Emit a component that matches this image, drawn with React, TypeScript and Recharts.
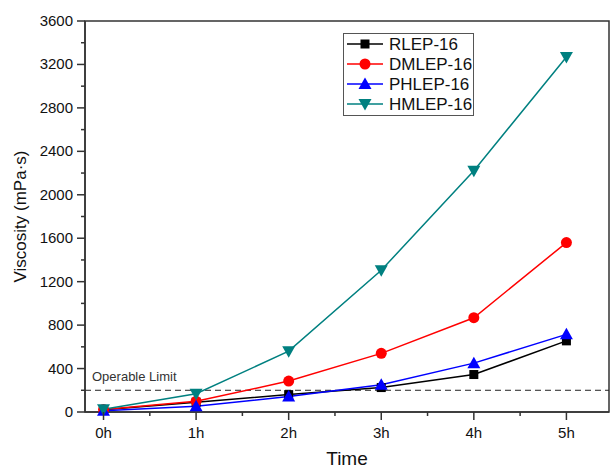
import React from 'react';
import { LineChart, Line, XAxis, YAxis, ReferenceLine, ReferenceArea } from 'recharts';

const hours = [0, 1, 2, 3, 4, 5];
const rlep = [20, 90, 160, 225, 345, 655];
const dmlep = [22, 98, 285, 540, 868, 1560];
const phlep = [12, 52, 142, 250, 450, 715];
const hmlep = [25, 168, 560, 1305, 2222, 3268];

const xTicks = [0, 0.5, 1, 1.5, 2, 2.5, 3, 3.5, 4, 4.5, 5];
const yTicks = [0, 200, 400, 600, 800, 1000, 1200, 1400, 1600, 1800, 2000, 2200, 2400, 2600, 2800, 3000, 3200, 3400, 3600];
const operableLimit = 200;

const series = [
  { key: 'rlep', name: 'RLEP-16', color: '#000000', shape: 'square' },
  { key: 'dmlep', name: 'DMLEP-16', color: '#ff0000', shape: 'circle' },
  { key: 'phlep', name: 'PHLEP-16', color: '#0000ff', shape: 'up' },
  { key: 'hmlep', name: 'HMLEP-16', color: '#008080', shape: 'down' },
];

const data = hours.map((h, i) => ({
  h,
  rlep: rlep[i],
  dmlep: dmlep[i],
  phlep: phlep[i],
  hmlep: hmlep[i],
}));

const FONT = 'Liberation Sans, Arial, sans-serif';
const AXIS = '#333';

function Marker({ cx, cy, shape, color }: any) {
  if (cx == null || cy == null) return null;
  if (shape === 'square') return <rect x={cx - 4.5} y={cy - 4.5} width={9} height={9} fill={color} />;
  if (shape === 'circle') return <circle cx={cx} cy={cy} r={5.5} fill={color} />;
  if (shape === 'up') return <path d={`M${cx},${cy - 6.5} L${cx + 6.5},${cy + 5} L${cx - 6.5},${cy + 5} Z`} fill={color} />;
  return <path d={`M${cx},${cy + 6.5} L${cx + 6.5},${cy - 5} L${cx - 6.5},${cy - 5} Z`} fill={color} />;
}

const XTick = ({ x, y, payload }: any) => {
  const major = Number.isInteger(payload.value);
  return (
    <g>
      <line x1={x} y1={y - 8} x2={x} y2={y - 8 + (major ? 8 : 4)} stroke={AXIS} strokeWidth={1.5} />
      {major && (
        <text x={x} y={y + 18} textAnchor="middle" fontSize={15} fontFamily={FONT} fill="#111">
          {payload.value}h
        </text>
      )}
    </g>
  );
};

const YTick = ({ x, y, payload }: any) => {
  const major = payload.value % 400 === 0;
  return (
    <g>
      <line x1={x + 8} y1={y} x2={x + 8 - (major ? 8 : 4)} y2={y} stroke={AXIS} strokeWidth={1.5} />
      {major && (
        <text x={x - 4} y={y + 5} textAnchor="end" fontSize={15} fontFamily={FONT} fill="#111">
          {payload.value}
        </text>
      )}
    </g>
  );
};

const LegendBox = () => (
  <svg width={132} height={84} style={{ position: 'absolute', left: 343, top: 33 }}>
    <rect x={0.5} y={0.5} width={130} height={82} fill="#fff" stroke="#555" />
    {series.map((s, i) => {
      const y = 11 + i * 20;
      return (
        <g key={s.key}>
          <line x1={4} y1={y} x2={40} y2={y} stroke={s.color} strokeWidth={1.5} />
          <Marker cx={22} cy={y} shape={s.shape} color={s.color} />
          <text x={46} y={y + 6} fontSize={17} fontFamily={FONT} fill="#111">
            {s.name}
          </text>
        </g>
      );
    })}
  </svg>
);

export default function App() {
  return (
    <div style={{ position: 'absolute', left: 0, top: 0, width: 611, height: 468, background: '#fff' }}>
      <LineChart width={611} height={468} data={data} margin={{ top: 21, right: 2, left: 0, bottom: 0 }}>
        <XAxis
          dataKey="h"
          type="number"
          domain={[-0.2, 5.46]}
          ticks={xTicks}
          interval={0}
          height={56}
          stroke={AXIS}
          strokeWidth={1.5}
          tickLine={false}
          tick={<XTick />}
          label={{ value: 'Time', position: 'insideBottom', offset: 0, dy: -3, fontSize: 19, fontFamily: FONT, fill: '#111' }}
        />
        <YAxis
          type="number"
          domain={[0, 3600]}
          ticks={yTicks}
          interval={0}
          width={85}
          stroke={AXIS}
          strokeWidth={1.5}
          tickLine={false}
          tick={<YTick />}
          label={{ value: 'Viscosity (mPa·s)', angle: -90, position: 'insideLeft', offset: 20, fontSize: 17, fontFamily: FONT, fill: '#111', style: { textAnchor: 'middle' } }}
        />
        <ReferenceArea x1={-0.2} x2={5.46} y1={0} y2={3600} fill="none" stroke={AXIS} strokeWidth={1.5} />
        <ReferenceLine
          y={operableLimit}
          stroke="#222"
          strokeDasharray="6 4"
          label={{ value: 'Operable Limit', position: 'insideTopLeft', dx: 2, dy: -24, fontSize: 13, fontFamily: FONT, fill: '#333' }}
        />
        {series.map((s) => (
          <Line
            key={s.key}
            dataKey={s.key}
            name={s.name}
            stroke={s.color}
            strokeWidth={1.5}
            isAnimationActive={false}
            dot={(p: any) => <Marker key={`${s.key}-${p.index}`} cx={p.cx} cy={p.cy} shape={s.shape} color={s.color} />}
            activeDot={false}
          />
        ))}
      </LineChart>
      <LegendBox />
    </div>
  );
}
